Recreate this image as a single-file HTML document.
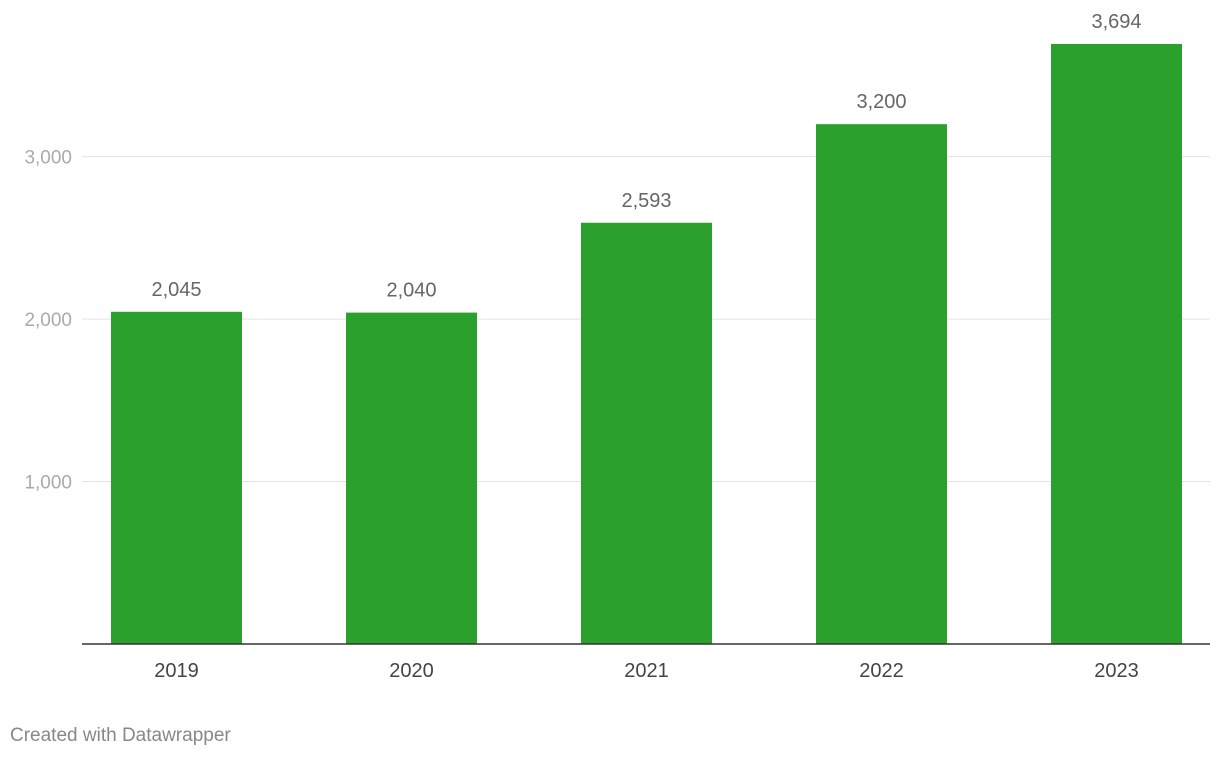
<!DOCTYPE html>
<html><head><meta charset="utf-8"><style>
html,body{margin:0;padding:0;background:#fff;width:1220px;height:758px;overflow:hidden}
svg text{font-family:"Liberation Sans",Arial,sans-serif}
</style></head><body>
<svg id="chart" width="1220" height="758" xmlns="http://www.w3.org/2000/svg">
<g id="grid"></g>
<g id="bars"></g>
<g id="labels"></g>
<g id="xaxis"></g>
<text x="10" y="741" font-size="19" fill="#888">Created with Datawrapper</text>
</svg>
<script>
const categories = ["2019","2020","2021","2022","2023"];
const values = [2045,2040,2593,3200,3694];
const yTicks = [1000,2000,3000];
const yTickLabels = ["1,000","2,000","3,000"];
const valueLabels = ["2,045","2,040","2,593","3,200","3,694"];

const NS="http://www.w3.org/2000/svg";
const y0=644, pxPer=0.16245;
function yScale(v){return y0 - v*pxPer;}
function xCenter(i){return 176.5 + i*235;}
const barW=131;
function mk(tag,attrs,parent,text){const e=document.createElementNS(NS,tag);for(const k in attrs)e.setAttribute(k,attrs[k]);if(text!==undefined)e.textContent=text;parent.appendChild(e);return e;}
const grid=document.getElementById('grid'),bars=document.getElementById('bars'),labels=document.getElementById('labels'),xaxis=document.getElementById('xaxis');
yTicks.forEach((t,i)=>{
  const l=mk('line',{x1:82,x2:1210,y1:yScale(t),y2:yScale(t),stroke:'#e3e3e3','stroke-width':1},grid);
  
  
  const tx=mk('text',{x:72,y:yScale(t)+7,'text-anchor':'end','font-size':19,fill:'#aaa'},grid,yTickLabels[i]);
  
  
});
values.forEach((v,i)=>{
  const r=mk('rect',{x:xCenter(i)-barW/2,y:yScale(v),width:barW,height:y0-yScale(v),fill:'#2ca02c'},bars);
  
  
  const t=mk('text',{x:xCenter(i),y:yScale(v)-16,'text-anchor':'middle','font-size':20,fill:'#666'},labels,valueLabels[i]);
  
  
  const c=mk('text',{x:xCenter(i),y:677,'text-anchor':'middle','font-size':20,fill:'#444'},xaxis,categories[i]);
  
  
});
const ax=mk('line',{x1:82,x2:1210,y1:y0,y2:y0,stroke:'#333','stroke-width':1.5},xaxis);


</script>
</body></html>
